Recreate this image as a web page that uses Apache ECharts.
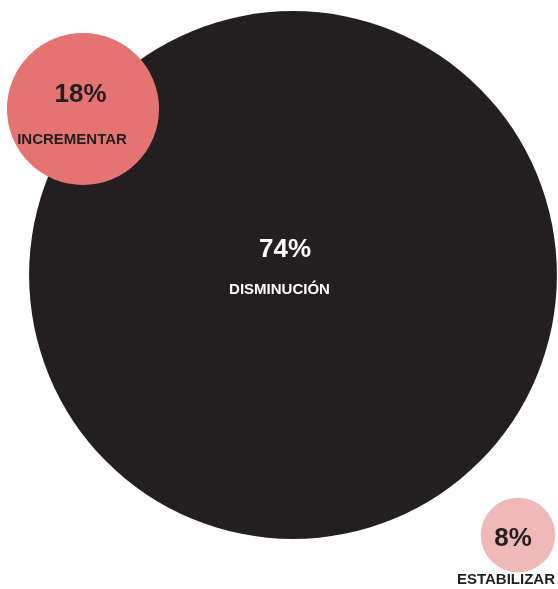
<!DOCTYPE html>
<html>
<head>
<meta charset="utf-8">
<script src="https://cdn.jsdelivr.net/npm/echarts@6/dist/echarts.min.js"></script>
<style>
  html, body { margin: 0; padding: 0; background: #ffffff; }
  #chart { width: 558px; height: 589px; }
</style>
</head>
<body>
<div id="chart"></div>
<script>
// Survey answers: share of respondents per outcome (percent)
const categories = ['DISMINUCIÓN', 'INCREMENTAR', 'ESTABILIZAR'];
const shares = [74, 18, 8];

// Bubble layout (canvas pixel space) and styling, kept apart from the data
const centers = [[293, 275], [83, 109], [518, 535]];
const colors = ['#231F20', '#E47372', '#F0B9B9'];
const textColors = ['#ffffff', '#231F20', '#231F20'];
const labelOffsets = [[-13.5, -5.5], [-11, 8.5], [-12, 24.5]];
const labelGaps = [40, 44.5, 41];
const valueShift = [11, 17, 14];   // nudges the percentage to the right of the name

// Bubble diameter grows with the share (power scale)
const sizeScale = v => 11.956 * Math.pow(v, 0.88);

const FONT = '"Liberation Sans", Arial, sans-serif';

const chart = echarts.init(document.getElementById('chart'), null, { renderer: 'canvas' });

const data = categories.map((name, i) => ({
  name: name,
  value: [centers[i][0], centers[i][1], shares[i]],
  symbolSize: sizeScale(shares[i]),
  itemStyle: { color: colors[i], opacity: 1 },
  label: {
    show: true,
    position: 'inside',
    offset: labelOffsets[i],
    formatter: p => '{v|' + p.value[2] + '%}\n{n|' + p.name + '}',
    rich: {
      v: {
        fontFamily: FONT,
        fontWeight: 'bold',
        fontSize: 26,
        color: textColors[i],
        lineHeight: labelGaps[i],
        padding: [0, 0, 0, valueShift[i]],
        align: 'center'
      },
      n: {
        fontFamily: FONT,
        fontWeight: 'bold',
        fontSize: 15,
        color: textColors[i],
        lineHeight: labelGaps[i],
        align: 'center'
      }
    }
  }
}));

chart.setOption({
  backgroundColor: '#ffffff',
  animation: false,
  grid: { left: 0, right: 0, top: 0, bottom: 0 },
  xAxis: { type: 'value', min: 0, max: 558, show: false },
  yAxis: { type: 'value', min: 0, max: 589, inverse: true, show: false },
  series: [{
    type: 'scatter',
    symbol: 'circle',
    data: data,
    silent: true,
    emphasis: { disabled: true }
  }]
});
</script>
</body>
</html>
